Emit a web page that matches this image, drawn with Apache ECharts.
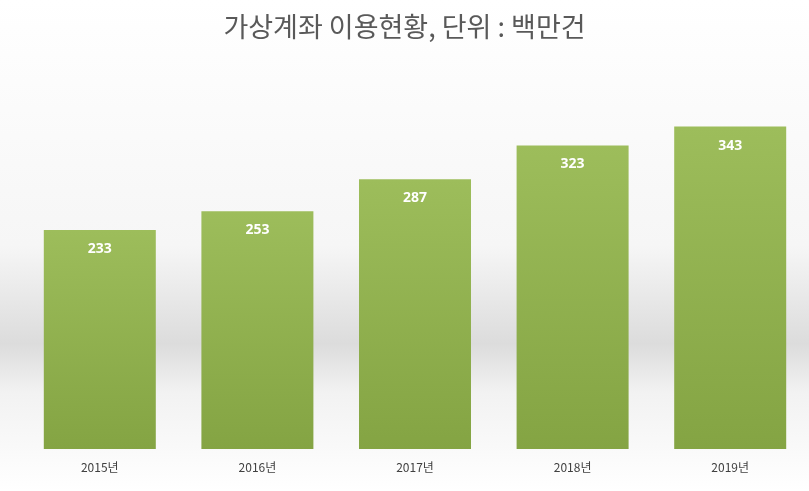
<!DOCTYPE html>
<html><head><meta charset="utf-8">
<script src="https://cdn.jsdelivr.net/npm/echarts@6/dist/echarts.min.js"></script>
<style>html,body{margin:0;padding:0}#c{width:809px;height:491px}</style>
</head><body><div id="c"></div>
<script>
const categories = ['2015년','2016년','2017년','2018년','2019년'];
const values = [233, 253, 287, 323, 343];
const chart = echarts.init(document.getElementById('c'));
chart.setOption({
  backgroundColor: new echarts.graphic.LinearGradient(0,0,0,1,[
    {offset:0,color:'#ffffff'},{offset:0.5,color:'#f6f6f6'},{offset:0.7,color:'#dcdcdc'},{offset:0.8,color:'#f2f2f2'},{offset:1,color:'#ffffff'}]),
  title:{text:'가상계좌 이용현황, 단위 : 백만건',left:'center',top:8,
    textStyle:{fontFamily:'Noto Sans CJK KR',fontSize:27,fontWeight:'normal',color:'#595959'}},
  grid:{left:21,right:0,top:73,bottom:42},
  xAxis:{type:'category',data:categories,axisLine:{show:false},axisTick:{show:false},
    axisLabel:{color:'#404040',fontSize:12,fontFamily:'Noto Sans CJK KR',margin:12}},
  yAxis:{type:'value',min:0,max:400,show:false,splitLine:{show:false}},
  series:[{type:'bar',data:values,barWidth:112,
    itemStyle:{color:new echarts.graphic.LinearGradient(0,0,0,1,[{offset:0,color:'#9dbd5b'},{offset:1,color:'#84a443'}])},
    label:{show:true,position:'insideTop',distance:12,color:'#fff',fontWeight:'bold',fontSize:14,fontFamily:'Open Sans'}}]
});
</script></body></html>
